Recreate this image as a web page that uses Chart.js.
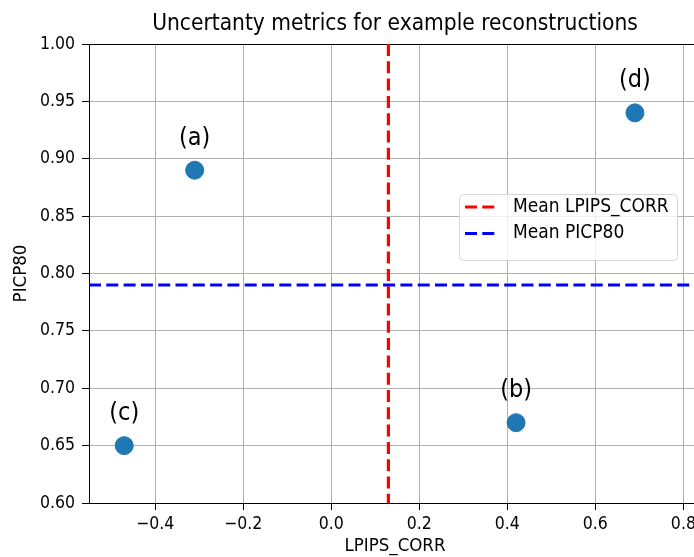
<!DOCTYPE html>
<html>
<head>
<meta charset="utf-8">
<script src="https://cdn.jsdelivr.net/npm/chart.js@4.4.0/dist/chart.umd.min.js"></script>
<style>
  body { margin: 0; background: #fff; overflow: hidden; }
  #wrap { width: 694px; height: 557px; overflow: hidden; }
</style>
</head>
<body>
<div id="wrap"><canvas id="scatterChart" width="712" height="557"></canvas></div>
<script>
const pointLabels = ['(a)', '(b)', '(c)', '(d)'];
const lpipsCorr = [-0.31, 0.42, -0.47, 0.69];
const picp80 = [0.89, 0.67, 0.65, 0.94];
const meanLpipsCorr = 0.13;
const meanPicp80 = 0.79;
const xRange = [-0.55, 0.84];
const yRange = [0.60, 1.00];

const FONT = '"DejaVu Sans Condensed", "DejaVu Sans"';

// annotation text over each point
const pointText = {
  id: 'pointText',
  afterDatasetsDraw(chart) {
    let ctx = chart.ctx
    let xs = chart.scales.x, ys = chart.scales.y
    ctx.save()
    ctx.font = '25px ' + FONT
    ctx.fillStyle = '#000'
    ctx.textAlign = 'center'
    ctx.textBaseline = 'middle'
    pointLabels.forEach((lab, k) => {
      ctx.fillText(lab, xs.getPixelForValue(lpipsCorr[k]), ys.getPixelForValue(picp80[k]) - 32)
    })
    ctx.restore()
  }
}

// top spine + legend box
const frameAndLegend = {
  id: 'frameAndLegend',
  beforeDatasetsDraw(chart) {
    let {ctx, chartArea} = chart
    ctx.save()
    ctx.strokeStyle = '#000'
    ctx.lineWidth = 1
    ctx.beginPath()
    ctx.moveTo(chartArea.left, chartArea.top + 0.5)
    ctx.lineTo(chartArea.right + 20, chartArea.top + 0.5)
    ctx.stroke()
    ctx.restore()
  },
  afterDraw(chart) {
    let {ctx, chartArea} = chart
    let sets = chart.data.datasets.filter(d => d.legendLabel)
    let left = chartArea.right - 242, top = chartArea.top + 150
    let w = 218, h = 66
    ctx.save()
    ctx.beginPath()
    ctx.roundRect(left + 0.5, top + 0.5, w, h, 4)
    ctx.fillStyle = 'rgba(255,255,255,0.8)'
    ctx.fill()
    ctx.strokeStyle = '#d6d6d6'
    ctx.lineWidth = 1
    ctx.stroke()
    ctx.font = '19px ' + FONT
    ctx.textBaseline = 'middle'
    sets.forEach((d, k) => {
      let y = top + 13 + k * 26.5
      ctx.strokeStyle = d.borderColor
      ctx.lineWidth = d.borderWidth
      ctx.setLineDash(d.borderDash)
      ctx.beginPath()
      ctx.moveTo(left + 6, y)
      ctx.lineTo(left + 37, y)
      ctx.stroke()
      ctx.setLineDash([])
      ctx.fillStyle = '#000'
      ctx.fillText(d.legendLabel, left + 54, y)
    })
    ctx.restore()
  }
}

let ctx = document.getElementById('scatterChart')
let chart = new Chart(ctx, {
  type: 'scatter',
  data: {
    datasets: [
      {
        label: 'points',
        data: lpipsCorr.map((v, k) => ({x: v, y: picp80[k]})),
        backgroundColor: '#1f77b4',
        borderColor: '#1f77b4',
        pointRadius: 9,
        pointHoverRadius: 9,
        order: 2
      },
      {
        label: 'meanLpips',
        legendLabel: 'Mean LPIPS_CORR',
        data: [{x: meanLpipsCorr, y: yRange[1]}, {x: meanLpipsCorr, y: yRange[0]}],
        showLine: true,
        borderColor: '#ff0000',
        borderWidth: 3.2,
        borderDash: [12, 5.3],
        pointRadius: 0,
        order: 1
      },
      {
        label: 'meanPicp',
        legendLabel: 'Mean PICP80',
        data: [{x: xRange[0], y: meanPicp80}, {x: xRange[1], y: meanPicp80}],
        showLine: true,
        borderColor: '#0000ff',
        borderWidth: 3.2,
        borderDash: [12, 5.3],
        pointRadius: 0,
        order: 1
      }
    ]
  },
  options: {
    responsive: false,
    animation: false,
    devicePixelRatio: 1,
    layout: { padding: { left: 0, right: 11, top: 0, bottom: 0 } },
    plugins: {
      legend: { display: false },
      tooltip: { enabled: false },
      title: {
        display: true,
        fullSize: false,
        text: 'Uncertanty metrics for example reconstructions',
        color: '#000',
        font: { family: FONT, size: 22.5, weight: 'normal' },
        padding: { top: 11, bottom: 6 }
      }
    },
    scales: {
      x: {
        type: 'linear',
        min: xRange[0],
        max: xRange[1],
        afterFit: (s) => { s.height = 54 },
        grid: { color: '#b0b0b0', lineWidth: 1, tickColor: '#000', tickLength: 7 },
        border: { color: '#000', width: 1 },
        ticks: {
          stepSize: 0.2,
          includeBounds: false,
          color: '#000',
          padding: 4,
          maxRotation: 0,
          font: { family: FONT, size: 17.5 },
          callback: (v) => Math.abs(v) < 1e-9 ? '0.0' : v.toFixed(1).replace('-', '\u2212')
        },
        title: {
          display: true,
          text: 'LPIPS_CORR',
          color: '#000',
          font: { family: FONT, size: 18.5 },
          padding: { top: 0, bottom: 0 }
        }
      },
      y: {
        type: 'linear',
        min: yRange[0],
        max: yRange[1],
        afterFit: (s) => { s.width = 89 },
        grid: { color: '#b0b0b0', lineWidth: 1, tickColor: '#000', tickLength: 7 },
        border: { color: '#000', width: 1 },
        ticks: {
          stepSize: 0.05,
          color: '#000',
          padding: 7,
          font: { family: FONT, size: 17.5 },
          callback: (v) => v.toFixed(2)
        },
        title: {
          display: true,
          text: 'PICP80',
          color: '#000',
          font: { family: FONT, size: 18.5 },
          padding: { top: 10, bottom: 0 }
        }
      }
    }
  },
  plugins: [frameAndLegend, pointText]
})
</script>
</body>
</html>
